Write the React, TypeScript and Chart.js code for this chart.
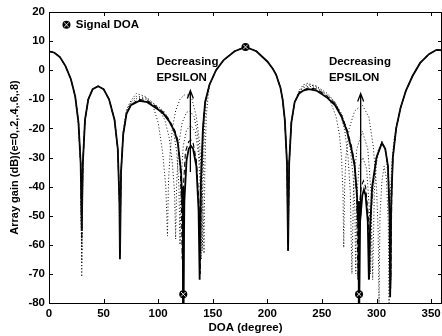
import React, { useEffect, useRef } from "react";
import { Chart, registerables } from "chart.js";
Chart.register(...registerables);

const FONT = '"Liberation Sans", Arial, Helvetica, sans-serif';

// ---- axis ticks ----
const xTicks = [0, 50, 100, 150, 200, 250, 300, 350];
const yTicks = [-80, -70, -60, -50, -40, -30, -20, -10, 0, 10, 20];

// ---- shared pattern segments (dB vs DOA) ----
const seg1X = [0, 5, 10, 15, 20, 24, 27, 29];
const seg1Y = [6.5, 6, 4.5, 1.5, -3, -9, -18, -32];
const seg2X = [31, 33, 36, 40, 45, 50, 55, 60, 63, 64.5];
const seg2Y = [-32, -17, -10, -6.5, -5.5, -6.5, -10, -17, -27, -45];
const seg3X = [147, 153, 160, 170, 180, 190, 200, 205, 208, 212, 214, 216, 218];
const seg3Y = [-5, 0, 3.5, 6.5, 8, 6.5, 3, 0.5, -1.5, -6, -10, -17, -32];
const seg4X = [318, 322, 327, 333, 340, 348, 355, 360];
const seg4Y = [-20, -13, -7, -2, 2.5, 5.5, 7, 6.8];

// null depths at 30, 65, 219 deg for each epsilon
const null30 = [-55, -58, -62, -66, -71];
const null65 = [-65, -63, -62, -61, -60];
const null219 = [-62, -62, -58, -56, -55];

// ---- epsilon = 0 (solid) ----
const e0AX = [66, 68, 71, 75, 83, 90, 100, 105, 110, 115, 118, 121, 122.5, 123, 124, 126, 128, 130, 132, 135, 137, 138, 139, 141, 143];
const e0AY = [-35, -22, -15, -12, -10.5, -11, -13.5, -15, -17.5, -21, -25, -35, -50, -80, -45, -31, -27, -26, -27, -33, -48, -72, -40, -20, -11];
const e0BX = [220, 222, 225, 229, 233, 238, 245, 255, 262, 268, 273, 277, 280, 282, 283.5, 284, 285, 287, 288.5, 290, 292, 293, 294, 296, 300, 305, 308, 310.5, 312, 312.5, 313.5, 315];
const e0BY = [-32, -18, -11, -8, -7, -6.5, -7, -9.5, -12, -16, -21, -27, -33, -42, -55, -80, -52, -43, -41, -43, -52, -72, -55, -40, -30, -25, -27, -33, -50, -78, -45, -30];

// ---- epsilon = 0.2 (dashed) ----
const e2AX = [66, 68, 71, 75, 82, 90, 100, 105, 110, 115, 118, 120, 121.3, 122, 122.8, 125, 128, 130, 132, 135, 137.3, 138.5, 139.5, 141, 143];
const e2AY = [-35, -22, -15, -12, -10, -10.5, -13, -14.5, -17, -20.5, -24, -32, -45, -65, -42, -28, -24.5, -24, -25, -31, -45, -70, -40, -20, -11];
const e2BX = [220, 222, 225, 229, 233, 238, 245, 255, 262, 268, 273, 277, 280, 282, 283, 284, 286, 288, 290, 292.5, 293.5, 294.5, 296.5, 300, 305, 308, 310.5, 312.2, 313, 314, 315];
const e2BY = [-32, -18, -11, -8, -6.8, -6, -6.5, -9, -11.5, -15.5, -20.5, -26, -32, -45, -72, -48, -40, -38, -40, -50, -72, -52, -40, -30, -25, -27, -33, -50, -75, -42, -30];

// ---- epsilon = 0.4 (dotted) ----
const e4AX = [66, 68, 71, 75, 81, 90, 100, 105, 110, 114, 117, 119, 120, 121, 123, 126, 130, 134, 137, 138.7, 139.5, 140.3, 141.5, 143];
const e4AY = [-35, -22, -14.5, -11.5, -9.5, -10, -12.5, -14, -17, -21, -28, -40, -60, -38, -26, -20.5, -19, -21, -29, -42, -65, -38, -20, -11];
const e4BX = [220, 222, 225, 229, 233, 238, 245, 255, 262, 268, 272, 276, 279, 280.2, 281, 281.8, 284, 287.5, 291, 293.5, 294.5, 295.5, 298, 301, 305, 308, 310.5, 312.4, 313.2, 314, 315];
const e4BY = [-32, -18, -11, -7.5, -6, -5.5, -6, -8.5, -11, -15, -19.5, -27, -38, -48, -70, -45, -33, -30, -34, -48, -70, -48, -36, -28, -24.5, -27, -33, -50, -72, -42, -30];

// ---- epsilon = 0.6 (dotted) ----
const e6AX = [66, 68, 71, 75, 80, 90, 100, 106, 110, 113, 115, 116, 117, 119, 122, 126, 129, 133, 136, 138.5, 139.8, 140.5, 141.2, 142.5, 144];
const e6AY = [-34, -21, -14, -11, -9, -9.5, -13, -17, -23, -32, -42, -58, -38, -25, -18, -14.5, -14, -16, -22, -33, -45, -62, -38, -18, -10];
const e6BX = [220, 222, 225, 229, 233, 237, 245, 255, 262, 267, 271, 274, 276, 277.5, 279, 282, 287, 292, 295, 296.5, 298, 300, 303, 306, 309, 311, 312.5, 313.3, 314, 315];
const e6BY = [-32, -18, -11, -7.5, -5.5, -5, -5.5, -8, -11, -15, -21, -30, -42, -70, -40, -27, -21, -27, -42, -72, -42, -32, -26, -25, -29, -40, -60, -72, -42, -30];

// ---- epsilon = 0.8 (dotted) ----
const e8AX = [66, 68, 71, 75, 80, 88, 95, 100, 104, 107, 108.5, 109.5, 111, 113, 116, 120, 124, 127, 131, 135, 138, 140, 141.3, 142, 142.7, 144, 146];
const e8AY = [-34, -21, -13.5, -10.5, -8, -9, -12, -18, -28, -40, -57, -38, -28, -20, -14, -10, -8.5, -8.5, -10, -16, -25, -38, -50, -63, -35, -16, -8];
const e8BX = [220, 222, 225, 229, 233, 237, 245, 252, 258, 263, 266, 268, 269.3, 270, 270.8, 272, 275, 280, 287, 293, 297, 300, 301.5, 302.3, 303.2, 305, 307, 309, 310.8, 311.5, 312.5, 314, 316];
const e8BY = [-32, -18, -11, -7, -5, -4.5, -5.5, -8, -11, -16, -22, -30, -42, -61, -40, -30, -20, -14, -12, -16, -26, -40, -55, -80, -50, -38, -33, -37, -52, -80, -45, -32, -24];

// ---- signal / interference DOA markers ----
const markerX = [180, 123, 284];
const markerY = [8, -77, -77];
const stemTopY = [-40, -45];

// ---- annotations (data units) ----
const arrowX = [129.5, 285.5];
const arrowFromY = [-35, -50];
const arrowToY = [-7, -8];
const noteX = [98.4, 256.4];
const noteLine1Y = 2.8;
const noteLine2Y = -2.6;
const legendPos = { x: 16, y: 15.6, textX: 24.5 };

function curve(i: number, ax: number[], ay: number[], bx: number[], by: number[]) {
  const xs = [...seg1X, 30, ...seg2X, 65, ...ax, ...seg3X, 219, ...bx, ...seg4X];
  const ys = [...seg1Y, null30[i], ...seg2Y, null65[i], ...ay, ...seg3Y, null219[i], ...by, ...seg4Y];
  return xs.map((x, k) => ({ x, y: ys[k] }));
}

function drawOtimes(ctx: CanvasRenderingContext2D, x: number, y: number) {
  ctx.save();
  ctx.fillStyle = "#000";
  ctx.beginPath(); ctx.arc(x, y, 4, 0, Math.PI * 2); ctx.fill();
  ctx.strokeStyle = "#fff";
  ctx.lineWidth = 0.9;
  const d = 2.3;
  ctx.beginPath();
  ctx.moveTo(x - d, y - d); ctx.lineTo(x + d, y + d);
  ctx.moveTo(x + d, y - d); ctx.lineTo(x - d, y + d);
  ctx.stroke();
  ctx.restore();
}

const framePlugin = {
  id: "frame",
  afterDraw(chart: any) {
    const { ctx, chartArea: a, scales } = chart;
    const sx = scales.x, sy = scales.y;
    ctx.save();
    ctx.strokeStyle = "#000";
    ctx.lineWidth = 1;
    ctx.strokeRect(Math.round(a.left) + 0.5, Math.round(a.top) + 0.5, Math.round(a.right - a.left) - 1, Math.round(a.bottom - a.top));
    const tl = 4;
    ctx.beginPath();
    xTicks.forEach((v) => {
      const px = Math.round(sx.getPixelForValue(v)) + 0.5;
      ctx.moveTo(px, a.bottom); ctx.lineTo(px, a.bottom - tl);
      ctx.moveTo(px, a.top); ctx.lineTo(px, a.top + tl);
    });
    yTicks.forEach((v) => {
      const py = Math.round(sy.getPixelForValue(v)) + 0.5;
      ctx.moveTo(a.left, py); ctx.lineTo(a.left + tl, py);
      ctx.moveTo(a.right, py); ctx.lineTo(a.right - tl, py);
    });
    ctx.stroke();

    // signal DOA markers
    markerX.forEach((x, i) => drawOtimes(ctx, sx.getPixelForValue(x), sy.getPixelForValue(markerY[i])));

    // arrows
    ctx.lineWidth = 1.3;
    arrowX.forEach((x, i) => {
      const px = sx.getPixelForValue(x);
      const p0 = sy.getPixelForValue(arrowFromY[i]);
      const p1 = sy.getPixelForValue(arrowToY[i]);
      ctx.beginPath();
      ctx.moveTo(px, p0); ctx.lineTo(px, p1);
      ctx.moveTo(px - 3, p1 + 8); ctx.lineTo(px, p1); ctx.lineTo(px + 3, p1 + 8);
      ctx.stroke();
    });

    // notes
    ctx.fillStyle = "#000";
    ctx.font = `bold 11.5px ${FONT}`;
    ctx.textBaseline = "middle";
    ctx.textAlign = "left";
    noteX.forEach((x) => {
      const px = sx.getPixelForValue(x);
      ctx.fillText("Decreasing", px, sy.getPixelForValue(noteLine1Y));
      ctx.fillText("EPSILON", px, sy.getPixelForValue(noteLine2Y));
    });

    // legend
    const lx = sx.getPixelForValue(legendPos.x), ly = sy.getPixelForValue(legendPos.y);
    drawOtimes(ctx, lx, ly);
    ctx.fillStyle = "#000";
    ctx.fillText("Signal DOA", sx.getPixelForValue(legendPos.textX), ly);
    ctx.restore();
  },
};

const App = () => {
  const ref = useRef<HTMLCanvasElement>(null);
  useEffect(() => {
    document.body.style.margin = "0";
    const ctx = ref.current!.getContext("2d")!;
    const dotted = { borderColor: "#111", borderWidth: 1, borderDash: [1, 2.2], pointRadius: 0, showLine: true, tension: 0 };
    const chart = new Chart(ctx, {
      type: "scatter",
      data: {
        datasets: [
          { label: "e=.8", data: curve(4, e8AX, e8AY, e8BX, e8BY), ...dotted },
          { label: "e=.6", data: curve(3, e6AX, e6AY, e6BX, e6BY), ...dotted },
          { label: "e=.4", data: curve(2, e4AX, e4AY, e4BX, e4BY), ...dotted },
          { label: "e=.2", data: curve(1, e2AX, e2AY, e2BX, e2BY), borderColor: "#000", borderWidth: 1.1, borderDash: [5, 3], pointRadius: 0, showLine: true },
          { label: "e=0", data: curve(0, e0AX, e0AY, e0BX, e0BY), borderColor: "#000", borderWidth: 1.8, pointRadius: 0, showLine: true },
          { label: "stem1", data: [{ x: markerX[1], y: -80 }, { x: markerX[1], y: stemTopY[0] }], borderColor: "#000", borderWidth: 2.4, pointRadius: 0, showLine: true },
          { label: "stem2", data: [{ x: markerX[2], y: -80 }, { x: markerX[2], y: stemTopY[1] }], borderColor: "#000", borderWidth: 2.4, pointRadius: 0, showLine: true },
        ],
      },
      options: {
        animation: false,
        responsive: false,
        maintainAspectRatio: false,
        layout: { padding: { top: 12, right: 0, left: 0, bottom: 0 } },
        plugins: { legend: { display: false }, tooltip: { enabled: false } },
        scales: {
          x: {
            type: "linear",
            min: 0,
            max: 360,
            afterFit(s: any) { s.height = 33; s.paddingLeft = 0; s.paddingRight = 0; },
            ticks: { stepSize: 50, includeBounds: false, color: "#000", padding: 4, maxRotation: 0, font: { family: FONT, size: 11.5, weight: "bold" } },
            grid: { display: false, drawTicks: false },
            border: { display: false },
            title: { display: true, text: "DOA (degree)", color: "#000", padding: { top: 0, bottom: 1 }, font: { family: FONT, size: 11.5, weight: "bold" } },
          },
          y: {
            type: "linear",
            min: -80,
            max: 20,
            afterFit(s: any) { s.width = 49; },
            ticks: { stepSize: 10, color: "#000", padding: 4, font: { family: FONT, size: 11.5, weight: "bold" } },
            grid: { display: false, drawTicks: false },
            border: { display: false },
            title: { display: true, text: "Array gain (dB)(e=0,.2,.4,.6,.8)", color: "#000", padding: { top: 8, bottom: 0 }, font: { family: FONT, size: 11, weight: "bold" } },
          },
        },
      },
      plugins: [framePlugin],
    });
    return () => chart.destroy();
  }, []);
  return (
    <div style={{ width: 442, height: 336 }}>
      <canvas ref={ref} width={442} height={336} style={{ display: "block" }} />
    </div>
  );
};

export default App;
